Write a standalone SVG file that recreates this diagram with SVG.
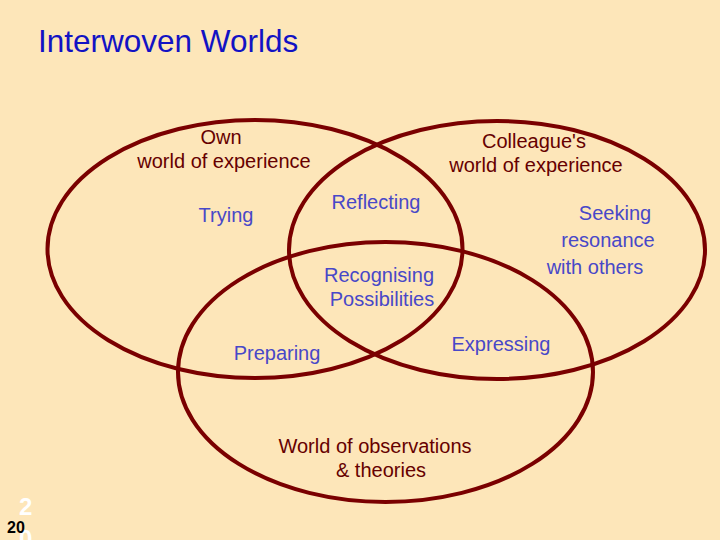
<svg xmlns="http://www.w3.org/2000/svg" width="720" height="540" viewBox="0 0 720 540">
<style>
.ring{fill:none;stroke:#7A0000;stroke-width:4}
.t{font-family:"Liberation Sans",Arial,sans-serif;font-size:20px;text-anchor:middle}
.dark{fill:#660000}
.blue{fill:#4848C8}
</style>
<rect x="0" y="0" width="720" height="540" fill="#FDE6B9"/>
<text x="38" y="52" font-family="Liberation Sans, Arial, sans-serif" font-size="31.5" fill="#1212C4">Interwoven Worlds</text>
<g id="own-world">
<ellipse class="ring" cx="255" cy="249" rx="207.5" ry="129"/>
<text class="t dark" x="221" y="144">Own</text>
<text class="t dark" x="224" y="168">world of experience</text>
</g>
<g id="colleague-world">
<ellipse class="ring" cx="497" cy="250" rx="208" ry="129"/>
<text class="t dark" x="534" y="148">Colleague's</text>
<text class="t dark" x="536" y="172">world of experience</text>
</g>
<g id="observations-world">
<ellipse class="ring" cx="385.5" cy="372" rx="207.5" ry="130"/>
<text class="t dark" x="375" y="453">World of observations</text>
<text class="t dark" x="381" y="477">&amp; theories</text>
</g>
<g id="trying"><text class="t blue" x="226" y="222">Trying</text></g>
<g id="reflecting"><text class="t blue" x="376" y="209">Reflecting</text></g>
<g id="seeking">
<text class="t blue" x="615" y="220">Seeking</text>
<text class="t blue" x="608" y="247">resonance</text>
<text class="t blue" x="595" y="274">with others</text>
</g>
<g id="recognising">
<text class="t blue" x="379" y="282">Recognising</text>
<text class="t blue" x="382" y="306">Possibilities</text>
</g>
<g id="preparing"><text class="t blue" x="277" y="360">Preparing</text></g>
<g id="expressing"><text class="t blue" x="501" y="351">Expressing</text></g>
<g id="connectors"></g>
<g id="page-number" font-family="Liberation Sans, Arial, sans-serif" font-weight="bold">
<text x="19" y="515" font-size="24" fill="#FFFFFF">2</text>
<text x="19" y="547" font-size="24" fill="#FFFFFF">0</text>
<text x="7" y="533" font-size="16" fill="#000000">20</text>
</g>
</svg>
